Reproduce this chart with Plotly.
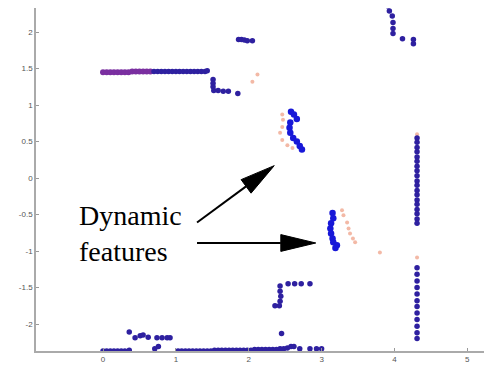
import plotly.graph_objects as go
import numpy as np

# ---- data ----
# static scan points (dark blue)
static_x = [
    # upper wall, right part
    0.70, 0.75, 0.80, 0.85, 0.90, 0.95, 1.00, 1.05, 1.10, 1.15, 1.20, 1.25, 1.30, 1.35, 1.40, 1.43,
    # small corner after wall
    1.51, 1.51, 1.51, 1.52, 1.58, 1.65, 1.72, 1.85,
    # cluster near y=1.88
    1.86, 1.90, 1.94, 1.98, 2.05,
    # top right cluster
    3.91, 3.93, 3.97, 3.98, 3.98, 3.98, 4.11, 4.26, 4.26,
    # right column, upper part
    4.31, 4.31, 4.31, 4.31, 4.31, 4.31, 4.31, 4.31, 4.31, 4.31, 4.31, 4.31, 4.31, 4.31, 4.31, 4.31, 4.31, 4.31, 4.31,
    # right column, lower part
    4.31, 4.31, 4.31, 4.31, 4.31, 4.31, 4.31, 4.31, 4.31, 4.31, 4.31, 4.31,
    # middle-bottom structure
    2.43, 2.43, 2.44, 2.43, 2.42, 2.36, 2.54, 2.63, 2.72, 2.84, 2.45,
    # bottom row left
    0.00, 0.05, 0.10, 0.15, 0.20, 0.25, 0.30, 0.36,
    # bottom bumps
    0.36, 0.44, 0.51, 0.55, 0.62, 0.74, 0.81, 0.88, 0.92, 0.71, 0.76,
    # bottom row long segment
    1.03, 1.08, 1.13, 1.18, 1.23, 1.28, 1.33, 1.38, 1.43, 1.48, 1.53, 1.58, 1.63, 1.68, 1.73,
    1.78, 1.83, 1.88, 1.93, 1.98, 2.03, 2.08, 2.13, 2.18, 2.23, 2.28, 2.33, 2.38, 2.43, 2.48,
    2.53, 2.58, 2.62, 2.70, 2.84, 2.93, 3.00,
]
static_y = [
    1.46, 1.46, 1.46, 1.46, 1.46, 1.46, 1.46, 1.46, 1.46, 1.46, 1.46, 1.46, 1.46, 1.46, 1.46, 1.47,
    1.35, 1.30, 1.25, 1.20, 1.20, 1.19, 1.19, 1.16,
    1.90, 1.90, 1.89, 1.88, 1.88,
    2.36, 2.29, 2.22, 2.13, 2.05, 1.98, 1.91, 1.90, 1.84,
    0.55, 0.49, 0.42, 0.36, 0.29, 0.23, 0.16, 0.10, 0.03, -0.04, -0.10, -0.17, -0.23, -0.30, -0.36, -0.43, -0.49, -0.56, -0.62,
    -1.23, -1.32, -1.41, -1.50, -1.59, -1.68, -1.76, -1.85, -1.94, -2.03, -2.12, -2.20,
    -1.48, -1.55, -1.62, -1.69, -1.75, -1.75, -1.45, -1.45, -1.45, -1.45, -2.13,
    -2.37, -2.37, -2.37, -2.37, -2.37, -2.37, -2.37, -2.36,
    -2.11, -2.19, -2.16, -2.15, -2.18, -2.19, -2.19, -2.19, -2.19, -2.34, -2.31,
    -2.37, -2.37, -2.37, -2.37, -2.37, -2.37, -2.37, -2.37, -2.37, -2.37, -2.36, -2.36, -2.36, -2.36, -2.36,
    -2.36, -2.36, -2.36, -2.36, -2.36, -2.36, -2.35, -2.35, -2.35, -2.35, -2.35, -2.35, -2.35, -2.34, -2.34,
    -2.33, -2.31, -2.31, -2.34, -2.34, -2.34, -2.34,
]
# overlapping scans on the left part of upper wall (purple)
wall_x = [0.00, 0.05, 0.10, 0.15, 0.20, 0.25, 0.30, 0.35, 0.40, 0.45, 0.50, 0.55, 0.60, 0.65]
wall_y = [1.45, 1.45, 1.45, 1.45, 1.45, 1.45, 1.45, 1.45, 1.46, 1.46, 1.46, 1.46, 1.46, 1.46]

# dynamic features, current scan (bright blue)
dyn_x = [2.58, 2.62, 2.66, 2.57, 2.56, 2.57, 2.61, 2.66, 2.70, 2.73,
         3.15, 3.16, 3.13, 3.12, 3.13, 3.15, 3.16, 3.21, 3.19]
dyn_y = [0.91, 0.87, 0.81, 0.76, 0.69, 0.62, 0.55, 0.50, 0.44, 0.39,
         -0.48, -0.55, -0.62, -0.69, -0.76, -0.83, -0.88, -0.92, -0.96]

# previous scan points (light red)
prev_x = [2.46, 2.47, 2.46, 2.43, 2.46, 2.53, 2.60,
          3.28, 3.30, 3.35, 3.37, 3.39, 3.43, 3.46, 3.80,
          2.05, 2.12, 4.31, 4.31]
prev_y = [0.87, 0.80, 0.70, 0.62, 0.52, 0.45, 0.41,
          -0.44, -0.51, -0.61, -0.69, -0.76, -0.83, -0.88, -1.02,
          1.32, 1.42, 0.60, -1.09]

x_ticks = [0, 1, 2, 3, 4, 5]
y_ticks = [-2, -1.5, -1, -0.5, 0, 0.5, 1, 1.5, 2]
y_tick_labels = ["-2", "-1.5", "-1", "-0.5", "0", "0.5", "1", "1.5", "2"]

label_text = "Dynamic<br>features"
label_pos = (-0.36, -0.27)
arrows = [((1.29, -0.61), (2.35, 0.17)), ((1.29, -0.89), (2.92, -0.89))]

fig = go.Figure()
fig.add_trace(go.Scatter(x=prev_x, y=prev_y, mode="markers",
                         marker=dict(size=4, color="#f0a890", opacity=0.8), showlegend=False))
fig.add_trace(go.Scatter(x=wall_x, y=wall_y, mode="markers",
                         marker=dict(size=6, color="#7a2fa0"), showlegend=False))
fig.add_trace(go.Scatter(x=static_x, y=static_y, mode="markers",
                         marker=dict(size=5.5, color="#2e20a0"), showlegend=False))
fig.add_trace(go.Scatter(x=dyn_x, y=dyn_y, mode="markers",
                         marker=dict(size=6.5, color="#1818d8"), showlegend=False))

shapes = []
L, W = 0.48, 0.115
for (tx, ty), (hx, hy) in arrows:
    d = np.array([hx - tx, hy - ty]); d = d / np.linalg.norm(d)
    p = np.array([-d[1], d[0]])
    b = np.array([hx, hy]) - L * d
    shapes.append(dict(type="line", x0=tx, y0=ty, x1=b[0], y1=b[1], xref="x", yref="y",
                       line=dict(color="black", width=2)))
    v1 = b + W * p; v2 = b - W * p
    shapes.append(dict(type="path", xref="x", yref="y",
                       path=f"M{hx},{hy} L{v1[0]},{v1[1]} L{v2[0]},{v2[1]} Z",
                       fillcolor="black", line=dict(color="black", width=1)))

fig.update_layout(
    width=492, height=373,
    margin=dict(l=28, r=13, t=0, b=30, autoexpand=False),
    paper_bgcolor="white", plot_bgcolor="white",
    shapes=shapes,
    annotations=[dict(x=label_pos[0], y=label_pos[1], xref="x", yref="y", text=label_text,
                      showarrow=False, xanchor="left", yanchor="top", align="left",
                      font=dict(family="Liberation Serif", size=28, color="black"))],
    xaxis=dict(range=[-0.92, 5.27], tickvals=x_ticks, ticks="inside", ticklen=3,
               tickcolor="#999", showgrid=False, zeroline=False, showline=True,
               linecolor="#aaaaaa", linewidth=1.5,
               tickfont=dict(family="Liberation Sans", size=8, color="#555")),
    yaxis=dict(range=[-2.37, 2.33], tickvals=y_ticks, ticktext=y_tick_labels, ticks="inside",
               ticklen=3, tickcolor="#999", showgrid=False, zeroline=False, showline=True,
               linecolor="#aaaaaa", linewidth=1.5,
               tickfont=dict(family="Liberation Sans", size=8, color="#555")),
)
fig.write_html("out.html")
